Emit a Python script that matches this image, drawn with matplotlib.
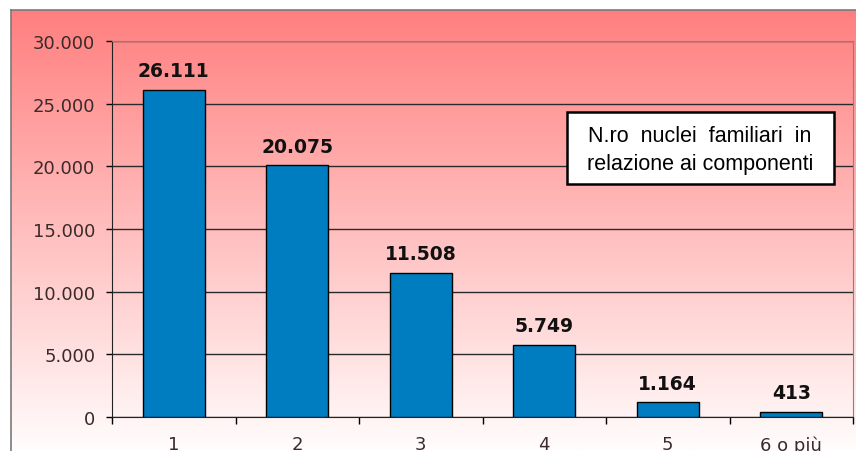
import numpy as np
import matplotlib
matplotlib.use("Agg")
import matplotlib.pyplot as plt
from matplotlib.patches import Rectangle

# dati
categorie = ["1", "2", "3", "4", "5", "6 o più"]
nuclei = [26111, 20075, 11508, 5749, 1164, 413]
y_ticks = [0, 5000, 10000, 15000, 20000, 25000, 30000]

def fmt(v):
    return f"{v:,}".replace(",", ".")

W, H = 856, 452
fig = plt.figure(figsize=(W / 100, H / 100), dpi=100)

# sfondo sfumato rosso -> bianco
bg = fig.add_axes([11 / W, 0, 1 - 11 / W, 1 - 11 / H])
grad = np.linspace(0, 1, 256).reshape(-1, 1)
top = np.array([255, 127, 127]) / 255
bot = np.array([255, 253, 253]) / 255
img = top[None, None, :] * (1 - grad[..., None]) + bot[None, None, :] * grad[..., None]
bg.imshow(img, aspect="auto", extent=[0, 1, 0, 1])
bg.set_xticks([])
bg.set_yticks([])
for s in ["right", "bottom"]:
    bg.spines[s].set_visible(False)
for s in ["left", "top"]:
    bg.spines[s].set_color("#7a7a7a")
    bg.spines[s].set_linewidth(1.2)

ax = fig.add_axes([112 / W, 1 - 418 / H, (853 - 112) / W, (418 - 42) / H])
ax.patch.set_alpha(0)
x = np.arange(len(categorie))
ax.bar(x, nuclei, width=0.5, color="#007DC0", edgecolor="black", linewidth=1, zorder=3)

for xi, v in zip(x, nuclei):
    ax.annotate(fmt(v), (xi, v), xytext=(0, 7), textcoords="offset points",
                ha="center", va="bottom", fontsize=13.5, fontweight="bold", color="#111111")

ax.set_ylim(0, 30000)
ax.set_xlim(-0.5, len(categorie) - 0.5)
ax.set_yticks(y_ticks)
ax.set_yticklabels([fmt(t) for t in y_ticks])
ax.grid(axis="y", color="#2a2a2a", linewidth=1, zorder=1)
ax.set_axisbelow(True)

ax.set_xticks(x)
ax.set_xticklabels(categorie)
ax.set_xticks(np.arange(-0.5, len(categorie)), minor=True)
ax.tick_params(axis="x", which="major", length=0, pad=13, labelsize=13, labelcolor="#3a2a2a")
ax.tick_params(axis="x", which="minor", length=5, width=1, color="black", direction="out")
ax.tick_params(axis="y", length=4, width=1, color="black", pad=8, labelsize=13, labelcolor="#3a2a2a")

ax.spines["left"].set_color("#222222")
ax.spines["bottom"].set_color("#222222")
ax.spines["top"].set_color("#8a8080")
ax.spines["right"].set_color("#8a8080")

# riquadro con titolo
fig.patches.append(Rectangle((567 / W, 1 - 185 / H), 267 / W, 72 / H, transform=fig.transFigure,
                             facecolor="white", edgecolor="black", linewidth=1.8, zorder=5))
fig.text(700 / W, 1 - 136 / H, "N.ro  nuclei  familiari  in", ha="center", va="center",
         fontsize=15.5, family="Liberation Sans", zorder=6)
fig.text(700 / W, 1 - 165 / H, "relazione ai componenti", ha="center", va="center",
         fontsize=15.5, family="Liberation Sans", zorder=6)

fig.savefig("out.png", dpi=100)
